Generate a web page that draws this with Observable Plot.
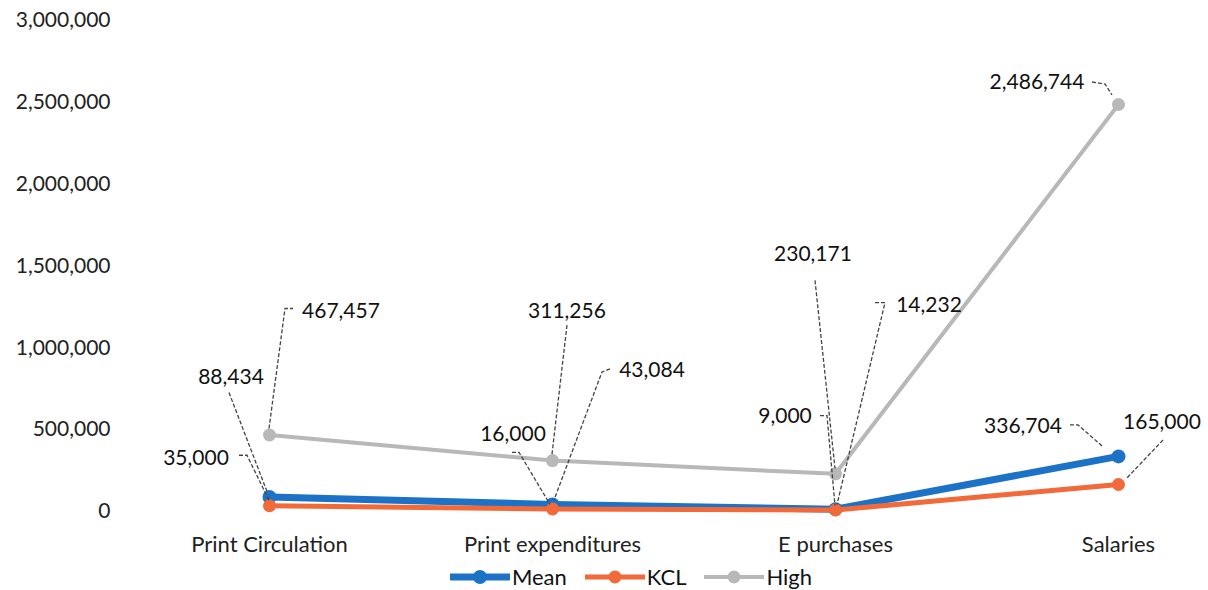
<!DOCTYPE html>
<html><head><meta charset="utf-8">
<script src="https://cdn.jsdelivr.net/npm/d3@7"></script>
<script src="https://cdn.jsdelivr.net/npm/@observablehq/plot@0.6"></script>
<style>
body{margin:0;background:#fff;font-family:Lato,"Open Sans",sans-serif;}
#legend{display:flex;justify-content:center;align-items:center;height:27px;font-size:22px;color:#111;padding-left:72px}
#legend .item{display:flex;align-items:center;margin-right:18px}
#legend svg{margin-right:2px}
</style></head><body>
<div id="chart"></div><div id="legend"></div>
<script>
const categories = ["Print Circulation", "Print expenditures", "E purchases", "Salaries"];
const seriesNames = ["Mean", "KCL", "High"];
const meanValues = [88434, 43084, 14232, 336704];
const kclValues = [35000, 16000, 9000, 165000];
const highValues = [467457, 311256, 230171, 2486744];
const yTicks = [0, 500000, 1000000, 1500000, 2000000, 2500000, 3000000];
const colors = ["#1b72c6", "#f2693a", "#b8b8b8"];
const widths = [7, 5, 4];
const radii = [7, 6.5, 6.5];

// label placement (px offsets from the point) and leader polylines
const labelOffsets = {
  Mean: [[-38, -120], [100, -134], [94, -204], [-95, -30]],
  KCL:  [[-73, -48], [-39, -75], [-50, -94], [44, -62]],
  High: [[72, -124], [15, -149], [-22, -220], [-81, -22]]
};
const leaderPaths = {
  Mean: [[[-40, -104], [-2, -5]], [[58, -135], [50, -132], [2, -4]], [[40, -206], [50, -206], [2, -4]], [[-48, -31], [-40, -31], [-16, -10]]],
  KCL:  [[[-30, -50], [-22, -50], [0, -5]], [[-40, -56], [-33, -56], [-2, -4]], [[-15, -94], [-8, -94], [0, -4]], [[45, -44], [8, -5]]],
  High: [[[0, -6], [16, -126], [24, -126]], [[15, -135], [0, -6]], [[-20, -193], [0, -5]], [[-26, -22], [-13, -20], [-6, -9]]]
};

const valuesBySeries = {Mean: meanValues, KCL: kclValues, High: highValues};
const rows = seriesNames.flatMap(s => categories.map((c, i) => ({series: s, cat: c, value: valuesBySeries[s][i], i})));
const fmt = d3.format(",");

const labelMark = (index, scales) => {
  const g = d3.create("svg:g");
  for (const r of rows) {
    const px = scales.x(r.cat), py = scales.y(r.value);
    const pts = leaderPaths[r.series][r.i].map(([dx, dy]) => [px + dx, py + dy]);
    g.append("path")
      .attr("d", d3.line()(pts))
      .attr("fill", "none")
      .attr("stroke", "#444")
      .attr("stroke-width", 1.3)
      .attr("stroke-dasharray", "4,2");
    const [ox, oy] = labelOffsets[r.series][r.i];
    g.append("text")
      .attr("x", px + ox).attr("y", py + oy)
      .attr("text-anchor", "middle")
      .attr("dy", "0.35em")
      .attr("fill", "#111")
      .attr("font-size", 21)
      .attr("font-family", "Lato, sans-serif")
      .text(fmt(r.value));
  }
  return g.node();
};

const marks = [
  Plot.axisY({ticks: yTicks, tickFormat: fmt, tickSize: 0, tickPadding: 10, label: null, fill: "#222"}),
  Plot.axisX({tickSize: 0, tickPadding: 25, label: null, fill: "#222", fontSize: 22})
];
seriesNames.forEach((s, k) => {
  const data = rows.filter(r => r.series === s);
  marks.push(Plot.line(data, {x: "cat", y: "value", stroke: colors[k], strokeWidth: widths[k]}));
  marks.push(Plot.dot(data, {x: "cat", y: "value", fill: colors[k], r: radii[k]}));
});
marks.push(labelMark);

const chart = Plot.plot({
  width: 1208, height: 563,
  marginTop: 20, marginBottom: 52, marginLeft: 120, marginRight: 0,
  x: {type: "point", domain: categories, range: [268, 1118], padding: 0},
  y: {domain: [0, 3000000]},
  style: {fontFamily: "Lato, sans-serif", fontSize: "21px", background: "#fff", overflow: "visible"},
  marks
});
document.getElementById("chart").append(chart);

const legend = d3.select("#legend");
seriesNames.forEach((s, k) => {
  const item = legend.append("div").attr("class", "item");
  const sv = item.append("svg").attr("width", 60).attr("height", 16);
  sv.append("line").attr("x1", 0).attr("x2", 60).attr("y1", 8).attr("y2", 8).attr("stroke", colors[k]).attr("stroke-width", widths[k]);
  sv.append("circle").attr("cx", 30).attr("cy", 8).attr("r", radii[k]).attr("fill", colors[k]);
  item.append("span").text(s);
});
</script>
</body></html>
